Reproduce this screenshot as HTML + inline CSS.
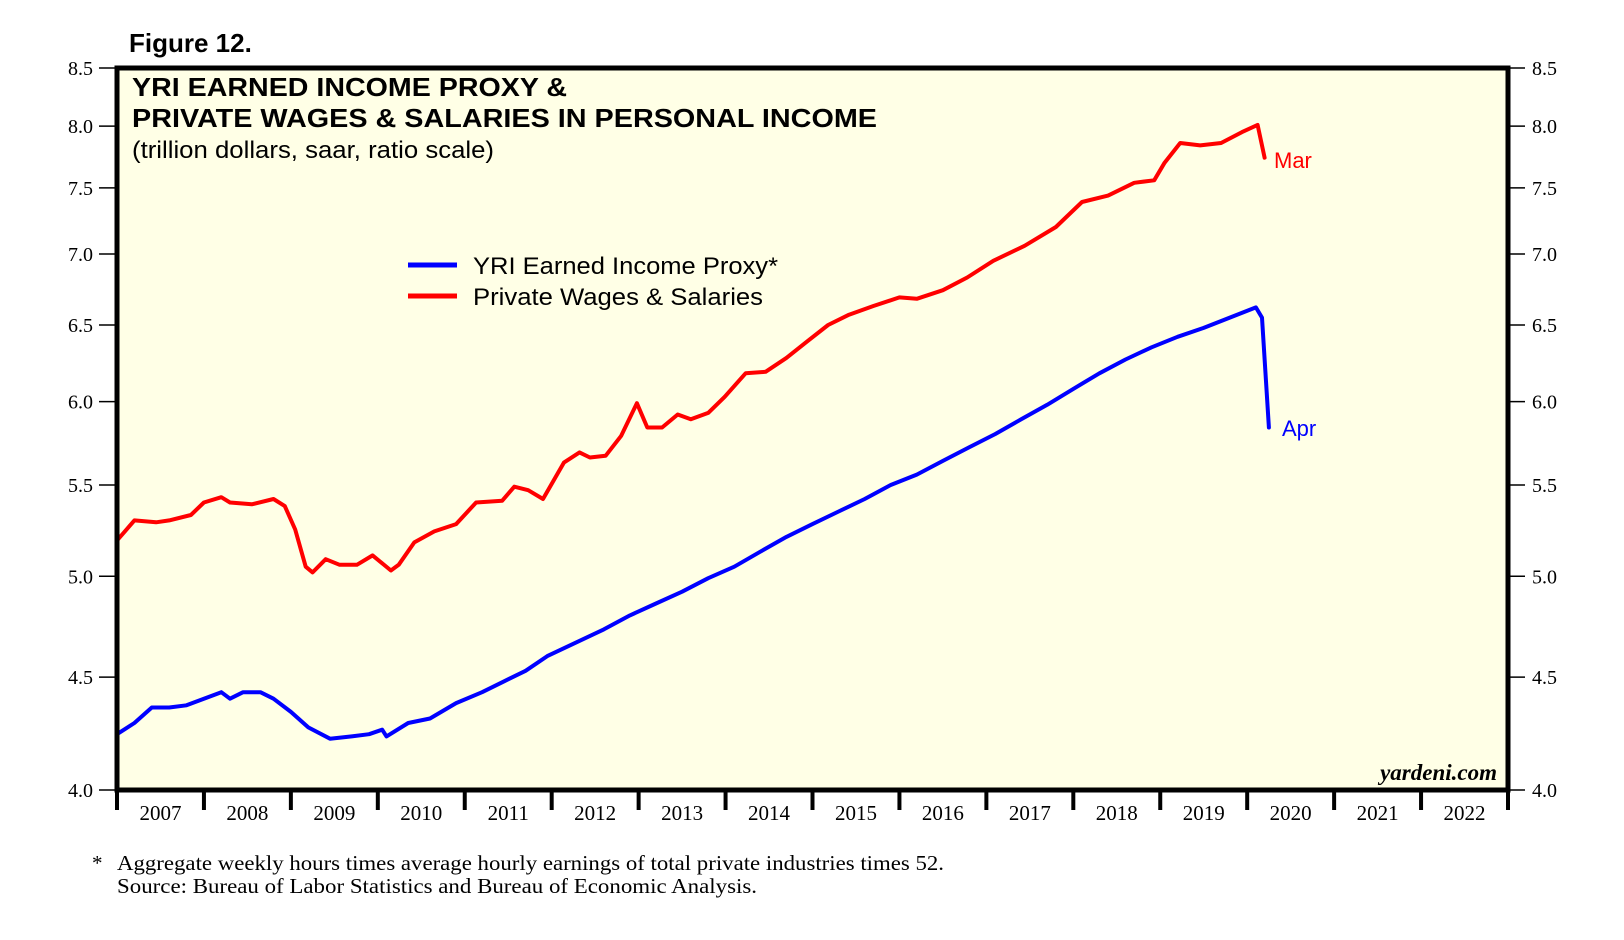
<!DOCTYPE html>
<html><head><meta charset="utf-8"><style>
html,body{margin:0;padding:0;background:#fff;}
svg{display:block;}
</style></head><body>
<svg id="chart" width="1624" height="940" viewBox="0 0 1624 940" xmlns="http://www.w3.org/2000/svg">
<rect x="117" y="68" width="1391" height="722" fill="#ffffe6"/>
<g id="grid"></g>
<g id="series"></g>
<rect x="117" y="68" width="1391" height="722" fill="none" stroke="#000" stroke-width="5"/>
<text x="129" y="52" font-family="Liberation Sans, sans-serif" font-weight="bold" font-size="26">Figure 12.</text>
<text x="132" y="96" font-family="Liberation Sans, sans-serif" font-weight="bold" font-size="26" textLength="435" lengthAdjust="spacingAndGlyphs">YRI EARNED INCOME PROXY &amp;</text>
<text x="132" y="127" font-family="Liberation Sans, sans-serif" font-weight="bold" font-size="26" textLength="745" lengthAdjust="spacingAndGlyphs">PRIVATE WAGES &amp; SALARIES IN PERSONAL INCOME</text>
<text x="132" y="158" font-family="Liberation Sans, sans-serif" font-size="24" textLength="362" lengthAdjust="spacingAndGlyphs">(trillion dollars, saar, ratio scale)</text>
<line x1="408" y1="265" x2="457" y2="265" stroke="#0000ff" stroke-width="5"/>
<text x="473" y="274" font-family="Liberation Sans, sans-serif" font-size="24" textLength="305" lengthAdjust="spacingAndGlyphs">YRI Earned Income Proxy*</text>
<line x1="408" y1="296" x2="457" y2="296" stroke="#ff0000" stroke-width="5"/>
<text x="473" y="305" font-family="Liberation Sans, sans-serif" font-size="24" textLength="290" lengthAdjust="spacingAndGlyphs">Private Wages &amp; Salaries</text>
<text x="1274" y="168" font-family="Liberation Sans, sans-serif" font-size="22" fill="#ff0000">Mar</text>
<text x="1282" y="436" font-family="Liberation Sans, sans-serif" font-size="22" fill="#0000ff">Apr</text>
<text x="1497" y="780" text-anchor="end" font-family="Liberation Serif, serif" font-style="italic" font-weight="bold" font-size="23">yardeni.com</text>
<text x="92" y="870" font-family="Liberation Serif, serif" font-size="21">*</text>
<text x="117" y="870" font-family="Liberation Serif, serif" font-size="21" textLength="827" lengthAdjust="spacingAndGlyphs">Aggregate weekly hours times average hourly earnings of total private industries times 52.</text>
<text x="117" y="893" font-family="Liberation Serif, serif" font-size="21" textLength="640" lengthAdjust="spacingAndGlyphs">Source: Bureau of Labor Statistics and Bureau of Economic Analysis.</text>
</svg>
<script>
const yTicks = [4.0, 4.5, 5.0, 5.5, 6.0, 6.5, 7.0, 7.5, 8.0, 8.5];
const yTickLabels = ["4.0","4.5","5.0","5.5","6.0","6.5","7.0","7.5","8.0","8.5"];
const years = [2007,2008,2009,2010,2011,2012,2013,2014,2015,2016,2017,2018,2019,2020,2021,2022];
const wagesDates = [2007.0,2007.2,2007.45,2007.6,2007.85,2008.0,2008.2,2008.3,2008.55,2008.8,2008.93,2009.05,2009.17,2009.25,2009.4,2009.56,2009.76,2009.94,2010.15,2010.24,2010.42,2010.65,2010.9,2011.13,2011.43,2011.57,2011.73,2011.9,2012.14,2012.32,2012.44,2012.62,2012.8,2012.98,2013.1,2013.27,2013.45,2013.6,2013.8,2013.99,2014.23,2014.46,2014.7,2014.94,2015.18,2015.42,2015.7,2016.0,2016.2,2016.5,2016.78,2017.08,2017.44,2017.8,2018.1,2018.4,2018.7,2018.93,2019.05,2019.23,2019.46,2019.7,2019.94,2020.12,2020.2];
const wagesValues = [5.19,5.30,5.29,5.30,5.33,5.40,5.43,5.40,5.39,5.42,5.38,5.25,5.05,5.02,5.09,5.06,5.06,5.11,5.03,5.06,5.18,5.24,5.28,5.40,5.41,5.49,5.47,5.42,5.63,5.69,5.66,5.67,5.79,5.99,5.84,5.84,5.92,5.89,5.93,6.03,6.18,6.19,6.28,6.39,6.50,6.57,6.63,6.69,6.68,6.74,6.83,6.95,7.06,7.20,7.39,7.44,7.54,7.56,7.70,7.86,7.84,7.86,7.95,8.01,7.74];
const proxyDates = [2007.0,2007.2,2007.4,2007.6,2007.8,2008.0,2008.2,2008.3,2008.45,2008.65,2008.8,2009.0,2009.2,2009.45,2009.7,2009.9,2010.05,2010.1,2010.35,2010.6,2010.9,2011.2,2011.45,2011.7,2011.95,2012.3,2012.6,2012.9,2013.2,2013.5,2013.8,2014.1,2014.4,2014.7,2015.0,2015.3,2015.6,2015.9,2016.2,2016.5,2016.8,2017.1,2017.4,2017.7,2018.0,2018.3,2018.6,2018.9,2019.2,2019.5,2019.8,2020.1,2020.17,2020.25];
const proxyValues = [4.24,4.29,4.36,4.36,4.37,4.40,4.43,4.40,4.43,4.43,4.40,4.34,4.27,4.22,4.23,4.24,4.26,4.23,4.29,4.31,4.38,4.43,4.48,4.53,4.60,4.67,4.73,4.80,4.86,4.92,4.99,5.05,5.13,5.21,5.28,5.35,5.42,5.50,5.56,5.64,5.72,5.80,5.89,5.98,6.08,6.18,6.27,6.35,6.42,6.48,6.55,6.62,6.55,5.84];

const X0=117, X1=1508, Y0=790, Y1=68, NS="http://www.w3.org/2000/svg";
const xScale = t => X0 + (t-2007)/16*(X1-X0);
const yScale = v => Y0 - Math.log(v/4)/Math.log(8.5/4)*(Y0-Y1);
const svg = document.getElementById('chart');
const grid = document.getElementById('grid');
const series = document.getElementById('series');
function mk(tag, attrs, parent){const e=document.createElementNS(NS,tag);for(const k in attrs)e.setAttribute(k,attrs[k]);parent.appendChild(e);return e;}

yTicks.forEach((v,i)=>{
  const y=yScale(v);
  const l=mk('line',{x1:99,x2:X0,y1:y,y2:y,stroke:'#000','stroke-width':1.5},grid);
  
  
  const r=mk('line',{x1:X1,x2:1525,y1:y,y2:y,stroke:'#000','stroke-width':1.5},grid);
  
  
  const t=mk('text',{x:93,y:y+7,'text-anchor':'end','font-family':'Liberation Serif, serif','font-size':20},svg);
  t.textContent=yTickLabels[i];
  
  
  const t2=mk('text',{x:1532,y:y+7,'font-family':'Liberation Serif, serif','font-size':20},svg);
  t2.textContent=yTickLabels[i];
  
  
});
for(let i=0;i<=years.length;i++){
  const yr = i<years.length ? years[i] : years[years.length-1]+1;
  const x=xScale(yr);
  const tk=mk('line',{x1:x,x2:x,y1:Y0,y2:810,stroke:'#000','stroke-width':4},svg);
  
  
  if(i<years.length){
    const t=mk('text',{x:xScale(yr+0.5),y:820,'text-anchor':'middle','font-family':'Liberation Serif, serif','font-size':21},svg);
    t.textContent=String(years[i]);
    
    
  }
}
function drawLine(dates, vals, color, name){
  const pts=dates.map((d,i)=>xScale(d).toFixed(1)+','+yScale(vals[i]).toFixed(1)).join(' ');
  const p=mk('polyline',{points:pts,fill:'none',stroke:color,'stroke-width':4,'stroke-linejoin':'round','stroke-linecap':'round'},series);
  
  
}
drawLine(wagesDates, wagesValues, '#ff0000', 'wages-line');
drawLine(proxyDates, proxyValues, '#0000ff', 'proxy-line');
</script>
</body></html>
